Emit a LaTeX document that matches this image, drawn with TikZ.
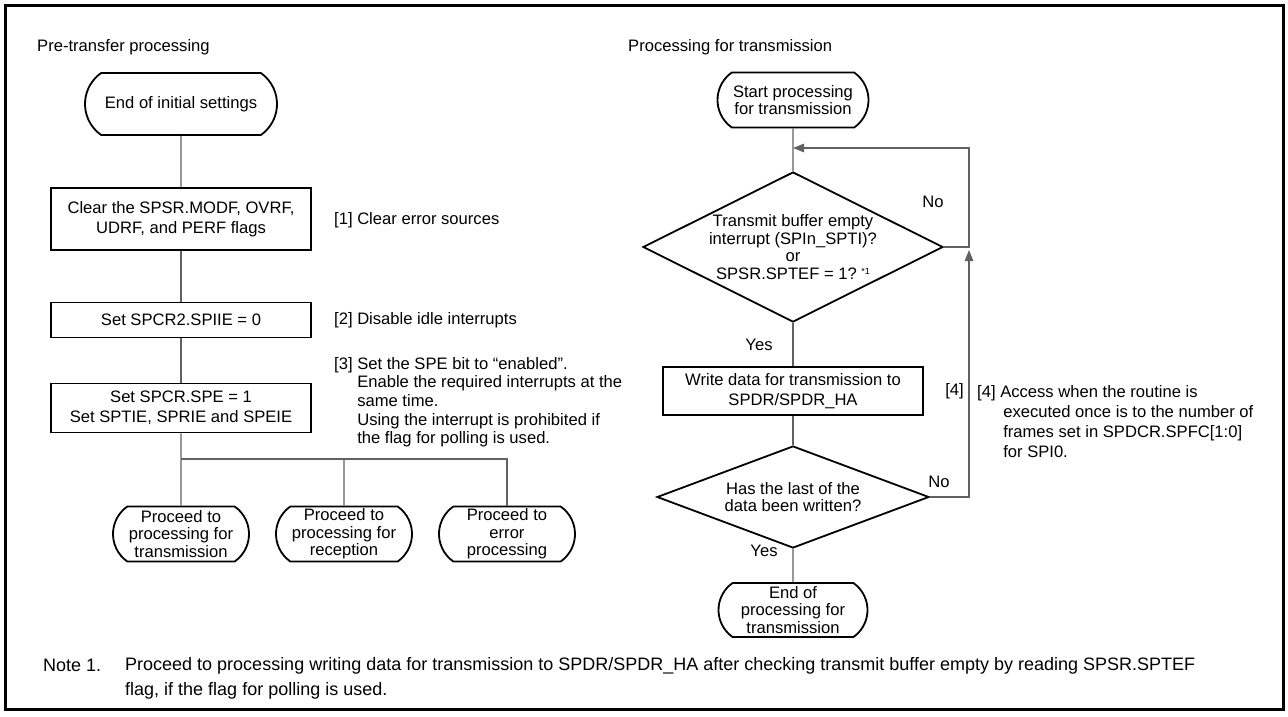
\documentclass[tikz,border=0pt]{standalone}
\usepackage{fontspec}
\setmainfont{Liberation Sans}
\usetikzlibrary{arrows.meta,shapes.geometric,shapes.misc}
\tikzset{
  >={Triangle[length=11pt,width=8.5pt]},
  every node/.style={font=\fontsize{16.6}{17.5}\selectfont},
  term/.style={rounded rectangle,rounded rectangle arc length=110,draw=black,line width=1.8pt,align=center,inner sep=0pt},
  box/.style={draw=black,line width=1.8pt,minimum width=260pt,align=center,inner sep=0pt,font=\fontsize{16.6}{20}\selectfont},
  dec/.style={diamond,draw=black,line width=1.8pt,align=center,inner sep=0pt},
  note/.style={anchor=west,inner sep=0pt},
}

\begin{document}
\begin{tikzpicture}[x=1pt,y=-1pt,
  line/.style={draw=black!62,line width=1.3pt},
  lab/.style={inner sep=0pt}]
  \useasboundingbox (0,0) rectangle (1288,716);
  \draw[line width=2.6pt] (5.5,5.5) rectangle (1283.5,709.5);
  % pre-transfer column
  \node[note] (hpre) at (37,47) {Pre-transfer processing};
  \node[term,minimum width=192pt,minimum height=62pt] (init) at (181,104) {End of initial settings};
  \node[box,minimum height=62pt] (clr) at (181,219) {Clear the SPSR.MODF, OVRF,\\UDRF, and PERF flags};
  \node[box,minimum height=35pt] (idle) at (181,320) {Set SPCR2.SPIIE = 0};
  \node[box,minimum height=49pt] (spe) at (181,408) {Set SPCR.SPE = 1\\Set SPTIE, SPRIE and SPEIE};
  \node[note] (n1) at (334,220) {[1] Clear error sources};
  \node[note] (n2) at (334,320) {[2] Disable idle interrupts};
  \node[note,anchor=north west] (n3) at (334,356) {\fontsize{16.6}{18.6}\selectfont
    \begin{tabular}{@{}l@{\ }l@{}}
    [3] & Set the SPE bit to ``enabled''.\\
        & Enable the required interrupts at the\\
        & same time.\\
        & Using the interrupt is prohibited if\\
        & the flag for polling is used.
    \end{tabular}};
  \foreach \x/\n/\t in {181/ptx/{Proceed to\\processing for\\transmission},
                        344/prx/{Proceed to\\processing for\\reception},
                        507/perr/{Proceed to\\error\\processing}}
    \node[term,minimum width=136pt,minimum height=55pt] (\n) at (\x,534) {\t};
  \coordinate (bus) at (181,459);
  \draw[line] (init) -- (clr);
  \draw[line] (clr) -- (idle);
  \draw[line] (idle) -- (spe);
  \draw[line] (spe) -- (ptx);
  \draw[line] (bus) -| (perr);
  \draw[line] (prx |- bus) -- (prx);
  % transmission column
  \node[note] (htx) at (628,47) {Processing for transmission};
  \node[term,minimum width=151pt,minimum height=55pt] (tstart) at (793,100) {Start processing\\for transmission};
  \node[dec,aspect=2,minimum width=300pt,minimum height=150pt] (qbuf) at (793,247)
    {Transmit buffer empty\\interrupt (SPIn\_SPTI)?\\or\\SPSR.SPTEF = 1?\ \raisebox{5pt}{\fontsize{9}{9}\selectfont *1}};
  \node[box,minimum height=48pt] (wr) at (793,391) {Write data for transmission to\\SPDR/SPDR\_HA};
  \node[dec,aspect=2.67,minimum width=272pt,minimum height=102pt] (qlast) at (793,497) {Has the last of the\\data been written?};
  \node[term,minimum width=149pt,minimum height=54pt] (tend) at (793,610) {End of\\processing for\\transmission};
  \coordinate (merge) at (793,148);
  \coordinate (rtop) at (969,148);
  \coordinate (rjoin) at (969,250);
  \draw[line] (tstart) -- (qbuf);
  \draw[line,->] (qbuf.east) -| (rtop) -- (merge);
  \draw[line] (qbuf) -- (wr);
  \draw[line] (wr) -- (qlast);
  \draw[line] (qlast) -- (tend);
  \draw[line,->] (qlast.east) -| (rjoin);
  \node[lab] (no1) at (933,202) {No};
  \node[lab] (yes1) at (759,345) {Yes};
  \node[lab] (no2) at (939,482) {No};
  \node[lab] (yes2) at (764,551) {Yes};
  \node[lab,anchor=east] (r4) at (964,391) {[4]};
  \node[note,anchor=north west] (n4) at (977,383) {\fontsize{16.6}{20}\selectfont
    \begin{tabular}{@{}l@{\ }l@{}}
    [4] & Access when the routine is\\
        & \hspace{3pt}executed once is to the number of\\
        & \hspace{3pt}frames set in SPDCR.SPFC[1:0]\\
        & \hspace{3pt}for SPI0.
    \end{tabular}};
  % note
  \node[note,font=\fontsize{18}{25}\selectfont] (nt) at (43,665) {Note 1.};
  \node[note,anchor=north west,align=left,font=\fontsize{18}{25}\selectfont] (ntx) at (125,657)
    {Proceed to processing writing data for transmission to SPDR/SPDR\_HA after checking transmit buffer empty by reading SPSR.SPTEF\\
     flag, if the flag for polling is used.};
\end{tikzpicture}
\end{document}
